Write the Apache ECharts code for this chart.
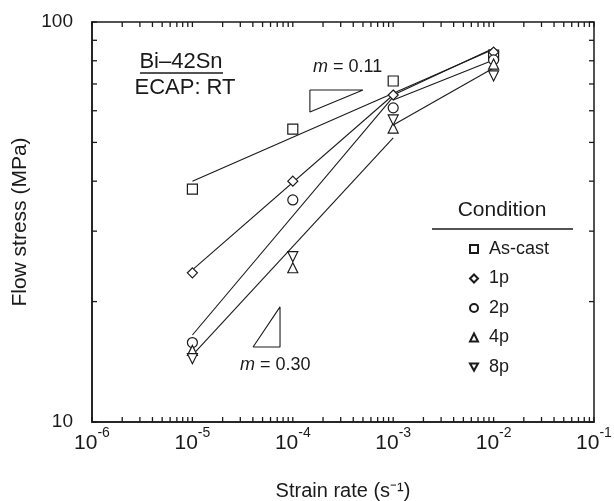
<!DOCTYPE html>
<html>
<head>
<meta charset="utf-8">
<script src="https://cdn.jsdelivr.net/npm/echarts@6/dist/echarts.min.js"></script>
<style>
  html, body { margin: 0; padding: 0; background: #fff; }
  #chart { width: 614px; height: 501px; }
</style>
</head>
<body>
<div id="chart"></div>
<script>
// strain rates (s^-1) where the tests were run
const rates = [1e-5, 1e-4, 1e-3, 1e-2]
const conditions = ['As-cast', '1p', '2p', '4p', '8p']

// flow stress (MPa), one array per condition
const stressAsCast = [38.2, 54.0, 71.2, 82.7]
const stress1p = [23.6, 40.0, 65.7, 84.1]
const stress2p = [15.8, 35.9, 61.0, 80.4]
const stress4p = [15.1, 24.3, 54.3, 78.5]
const stress8p = [14.4, 25.9, 56.9, 73.3]

// fitted lines, [rate, stress] end points
const fitAsCast = [[1e-5, 40.0], [1e-2, 85.5]]
const fit1pLow = [[1e-5, 24.0], [1e-3, 65.7]]
const fit1pHigh = [[1e-3, 65.7], [1e-2, 86.0]]
const fit2pLow = [[1e-5, 16.5], [1e-3, 65.0]]
const fit2pHigh = [[1e-3, 63.8], [1e-2, 80.4]]
const fit48Low = [[1e-5, 14.7], [1e-3, 51.3]]
const fit48High = [[1e-3, 55.3], [1e-2, 76.7]]

// slope triangles
const slopeTri011 = [[1.48e-4, 67.6], [5.0e-4, 67.6], [1.48e-4, 59.6], [1.48e-4, 67.6]]
const slopeTri030 = [[4.02e-5, 15.4], [7.46e-5, 15.4], [7.46e-5, 19.4], [4.02e-5, 15.4]]

// axis ticks
const xDecades = [-6, -5, -4, -3, -2]
const tickSteps = [1, 2, 3, 4, 5, 6, 7, 8, 9]
const yTickValues = [10, 20, 30, 40, 50, 60, 70, 80, 90, 100]

const xTickValues = []
xDecades.forEach(d => {
  tickSteps.forEach(s => xTickValues.push(s * Math.pow(10, d)))
})
xTickValues.push(1e-1)

const ink = '#1a1a1a'
const font = '"Liberation Sans", Arial, sans-serif'
const downTri = 'path://M0,0 L10,0 L5,9 Z'

function markers (name, values, symbol, size) {
  return {
    name: name,
    type: 'scatter',
    symbol: symbol,
    symbolSize: size,
    z: 5,
    itemStyle: { color: '#fff', borderColor: ink, borderWidth: 1.2, opacity: 1 },
    data: rates.map((r, i) => [r, values[i]])
  }
}

function fitLine (points) {
  return {
    type: 'line',
    symbol: 'none',
    silent: true,
    z: 3,
    lineStyle: { color: ink, width: 1.1 },
    data: points
  }
}

function tickSeries (values, horizontal) {
  return {
    type: 'custom',
    silent: true,
    z: 4,
    data: values.map(v => horizontal ? [v, 10] : [1e-6, v]),
    encode: { x: 0, y: 1 },
    renderItem: function (params, api) {
      const v = api.value(horizontal ? 0 : 1)
      const style = { stroke: ink, lineWidth: 1.3 }
      let a, b
      if (horizontal) {
        a = api.coord([v, 10])
        b = api.coord([v, 100])
        return {
          type: 'group',
          children: [
            { type: 'line', shape: { x1: a[0], y1: a[1], x2: a[0], y2: a[1] - 5 }, style: style },
            { type: 'line', shape: { x1: b[0], y1: b[1], x2: b[0], y2: b[1] + 5 }, style: style }
          ]
        }
      }
      a = api.coord([1e-6, v])
      b = api.coord([1e-1, v])
      return {
        type: 'group',
        children: [
          { type: 'line', shape: { x1: a[0], y1: a[1], x2: a[0] + 5, y2: a[1] }, style: style },
          { type: 'line', shape: { x1: b[0], y1: b[1], x2: b[0] - 5, y2: b[1] }, style: style }
        ]
      }
    }
  }
}

const chart = echarts.init(document.getElementById('chart'), null, { renderer: 'canvas' })

const option = {
  backgroundColor: '#fff',
  animation: false,
  textStyle: { fontFamily: font, color: ink },
  grid: {
    left: 92,
    top: 22,
    right: 20,
    bottom: 79,
    outerBoundsMode: 'none',
    containLabel: false,
    show: true,
    borderColor: ink,
    borderWidth: 1.5
  },
  xAxis: {
    type: 'log',
    logBase: 10,
    min: 1e-6,
    max: 1e-1,
    name: 'Strain rate (s⁻¹)',
    nameLocation: 'middle',
    nameGap: 59,
    nameTextStyle: { fontSize: 20, color: ink, fontFamily: font },
    axisLine: { show: true, lineStyle: { color: ink, width: 1.5 } },
    axisTick: { show: false },
    splitLine: { show: false },
    axisLabel: {
      margin: 10,
      color: ink,
      fontFamily: font,
      formatter: function (value) {
        const e = Math.round(Math.log10(value))
        return '{b|10}{s|' + e + '}'
      },
      rich: {
        b: { fontSize: 21, lineHeight: 22, verticalAlign: 'bottom', fontFamily: font, color: ink },
        s: { fontSize: 14, lineHeight: 14, padding: [0, 0, 14, 0], verticalAlign: 'bottom', fontFamily: font, color: ink }
      }
    }
  },
  yAxis: {
    type: 'log',
    logBase: 10,
    min: 10,
    max: 100,
    name: 'Flow stress (MPa)',
    nameLocation: 'middle',
    nameRotate: 90,
    nameGap: 54,
    nameTextStyle: { fontSize: 21, color: ink, fontFamily: font },
    axisLine: { show: true, lineStyle: { color: ink, width: 1.5 } },
    axisTick: { show: false },
    splitLine: { show: false },
    axisLabel: { margin: 19, fontSize: 19, color: ink, fontFamily: font }
  },
  legend: {
    data: conditions,
    orient: 'vertical',
    left: 464,
    top: 235,
    itemWidth: 8,
    itemHeight: 8,
    itemGap: 11.5,
    textStyle: { fontSize: 18, lineHeight: 18, color: ink, fontFamily: font, padding: [0, 0, 0, 6] }
  },
  graphic: [
    {
      type: 'text',
      x: 502,
      y: 210,
      style: { text: 'Condition', fontSize: 21, fontFamily: font, fill: ink, align: 'center', verticalAlign: 'middle' }
    },
    { type: 'line', shape: { x1: 432, y1: 229, x2: 573, y2: 229 }, style: { stroke: ink, lineWidth: 1.5 } },
    {
      type: 'text',
      x: 181,
      y: 62,
      style: { text: 'Bi–42Sn', fontSize: 22, fontFamily: font, fill: ink, align: 'center', verticalAlign: 'middle' }
    },
    { type: 'line', shape: { x1: 140, y1: 73, x2: 223, y2: 73 }, style: { stroke: ink, lineWidth: 1.4 } },
    {
      type: 'text',
      x: 185,
      y: 88,
      style: { text: 'ECAP: RT', fontSize: 22, fontFamily: font, fill: ink, align: 'center', verticalAlign: 'middle' }
    },
    {
      type: 'text',
      x: 313,
      y: 67,
      style: {
        text: '{i|m} = 0.11',
        fontSize: 18,
        fontFamily: font,
        fill: ink,
        verticalAlign: 'middle',
        rich: { i: { fontStyle: 'italic', fontSize: 18, fontFamily: font, fill: ink } }
      }
    },
    {
      type: 'text',
      x: 240,
      y: 365,
      style: {
        text: '{i|m} = 0.30',
        fontSize: 18,
        fontFamily: font,
        fill: ink,
        verticalAlign: 'middle',
        rich: { i: { fontStyle: 'italic', fontSize: 18, fontFamily: font, fill: ink } }
      }
    }
  ],
  series: [
    fitLine(fitAsCast),
    fitLine(fit1pLow),
    fitLine(fit1pHigh),
    fitLine(fit2pLow),
    fitLine(fit2pHigh),
    fitLine(fit48Low),
    fitLine(fit48High),
    fitLine(slopeTri011),
    fitLine(slopeTri030),
    tickSeries(xTickValues, true),
    tickSeries(yTickValues, false),
    markers('As-cast', stressAsCast, 'rect', 10),
    markers('1p', stress1p, 'diamond', 10),
    markers('2p', stress2p, 'circle', 10),
    markers('4p', stress4p, 'triangle', 10),
    markers('8p', stress8p, downTri, 10)
  ]
}

chart.setOption(option)
window.addEventListener('resize', () => {
  chart.resize()
})
</script>
</body>
</html>
